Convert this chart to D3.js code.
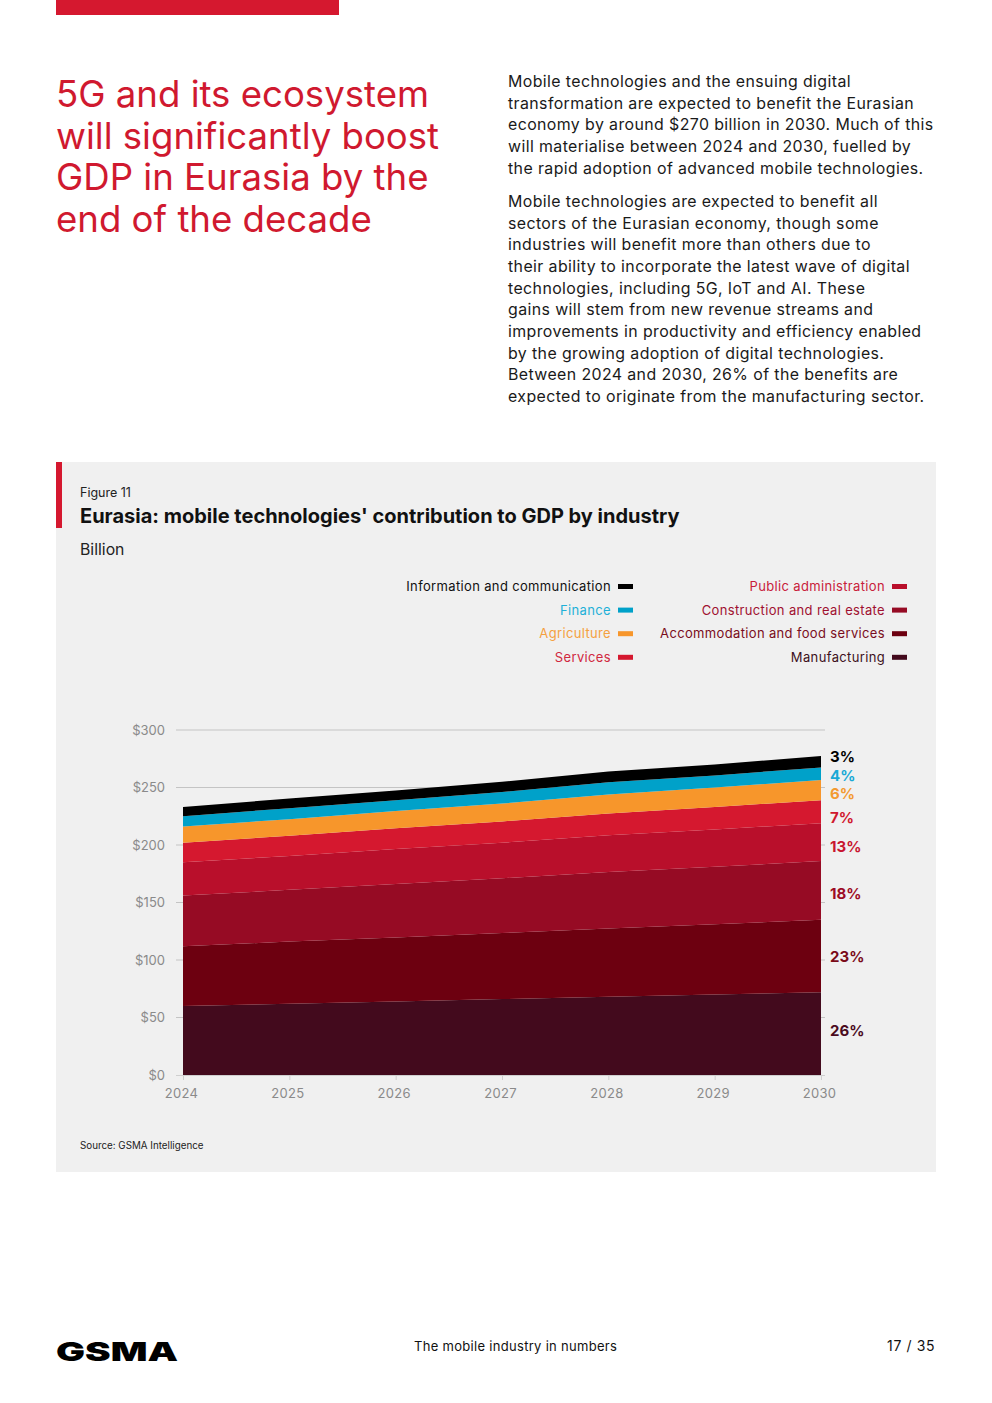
<!DOCTYPE html>
<html>
<head>
<meta charset="utf-8">
<script src="https://cdn.jsdelivr.net/npm/d3@7"></script>
<style>
  body { margin: 0; background: #fff; }
  svg { display: block; }
</style>
</head>
<body>
<div id="page"></div>
<script>
// Data (billion USD)
const years = [2024, 2025, 2026, 2027, 2028, 2029, 2030];
const manufacturing = [60, 62, 64, 66, 68, 70, 72];
const accommodation = [52, 54, 55.5, 57.5, 59.5, 61, 63];
const construction = [44, 45, 46.5, 47.5, 49, 50, 51];
const publicAdmin = [29, 29.5, 30.5, 31, 32, 32.5, 33];
const services = [17, 17.5, 18, 18.5, 19, 19.5, 20];
const agriculture = [14, 14.5, 15, 15.5, 16.5, 17, 17.5];
const finance = [9, 9.5, 9.5, 10, 10.5, 10.5, 11];
const ict = [8, 8.5, 8.5, 9, 9.5, 9.5, 10];

const shares = ["26%", "23%", "18%", "13%", "7%", "6%", "4%", "3%"];
const yTicks = [0, 50, 100, 150, 200, 250, 300];

// Series, bottom to top
const series = [
    { key: "Manufacturing", values: manufacturing, fill: "#430a1d", text: "#3d1020", label: "#4a0b1e" },
    { key: "Accommodation and food services", values: accommodation, fill: "#6d0010", text: "#7a0d20", label: "#7a0a18" },
    { key: "Construction and real estate", values: construction, fill: "#960b24", text: "#a01030", label: "#9c0b25" },
    { key: "Public administration", values: publicAdmin, fill: "#b90f2b", text: "#c8203a", label: "#c8152f" },
    { key: "Services", values: services, fill: "#d5182f", text: "#d0283f", label: "#d0182e" },
    { key: "Agriculture", values: agriculture, fill: "#f7962b", text: "#f5a040", label: "#f39a30" },
    { key: "Finance", values: finance, fill: "#00a1c9", text: "#1fb0d8", label: "#19a9d6" },
    { key: "Information and communication", values: ict, fill: "#000000", text: "#111111", label: "#000000" }
];

const table = years.map((y, i) => {
    const row = { year: y };
    series.forEach(s => { row[s.key] = s.values[i]; });
    return row;
});

const W = 992, H = 1403;
const red = "#d5182f";

const svg = d3.select("#page")
    .append("svg")
    .attr("width", W)
    .attr("height", H);

// Top red bar
svg.append("rect").attr("x", 56).attr("y", 0).attr("width", 283).attr("height", 15).attr("fill", red);

// Heading
const heading = ["5G and its ecosystem", "will significantly boost", "GDP in Eurasia by the", "end of the decade"];
svg.append("g")
    .selectAll("text")
    .data(heading)
    .enter()
    .append("text")
    .attr("x", 56)
    .attr("y", (d, i) => 107 + i * 41.6)
    .attr("fill", "#d0192f")
    .style("font-family", "Inter")
    .style("font-size", "36.6px")
    .style("font-weight", 400)
    .text(d => d);

// Body copy
const para1 = [
    "Mobile technologies and the ensuing digital",
    "transformation are expected to benefit the Eurasian",
    "economy by around $270 billion in 2030. Much of this",
    "will materialise between 2024 and 2030, fuelled by",
    "the rapid adoption of advanced mobile technologies."
];
const para2 = [
    "Mobile technologies are expected to benefit all",
    "sectors of the Eurasian economy, though some",
    "industries will benefit more than others due to",
    "their ability to incorporate the latest wave of digital",
    "technologies, including 5G, IoT and AI. These",
    "gains will stem from new revenue streams and",
    "improvements in productivity and efficiency enabled",
    "by the growing adoption of digital technologies.",
    "Between 2024 and 2030, 26% of the benefits are",
    "expected to originate from the manufacturing sector."
];
function bodyLines(lines, y0) {
    svg.append("g")
        .selectAll("text")
        .data(lines)
        .enter()
        .append("text")
        .attr("x", 508)
        .attr("y", (d, i) => y0 + i * 21.65)
        .attr("fill", "#1a1a1a")
        .style("font-family", "Inter")
        .style("font-size", "15.9px")
        .style("letter-spacing", "0.4px")
        .text(d => d);
}
bodyLines(para1, 87);
bodyLines(para2, 207);

// Figure panel
svg.append("rect").attr("x", 56).attr("y", 462).attr("width", 880).attr("height", 710).attr("fill", "#f0f0f0");
svg.append("rect").attr("x", 56).attr("y", 462).attr("width", 6).attr("height", 66).attr("fill", red);

svg.append("text").attr("x", 80).attr("y", 497)
    .style("font-family", "Inter").style("font-size", "12.5px").attr("fill", "#222")
    .text("Figure 11");
svg.append("text").attr("x", 80).attr("y", 523)
    .style("font-family", "Inter").style("font-size", "20px").style("font-weight", 700).attr("fill", "#111")
    .text("Eurasia: mobile technologies' contribution to GDP by industry");
svg.append("text").attr("x", 80).attr("y", 555)
    .style("font-family", "Inter").style("font-size", "15.8px").attr("fill", "#222")
    .text("Billion");

// Legend: two columns, right aligned text with swatch
const legendCols = [
    { right: 611, items: [series[7], series[6], series[5], series[4]] },
    { right: 885, items: [series[3], series[2], series[1], series[0]] }
];
legendCols.forEach(col => {
    const g = svg.append("g");
    col.items.forEach((s, i) => {
        const cy = 586.5 + i * 23.6;
        g.append("text")
            .attr("x", col.right)
            .attr("y", cy)
            .attr("dy", "0.35em")
            .attr("text-anchor", "end")
            .attr("fill", s.text)
            .style("font-family", "Inter")
            .style("font-size", "13px")
            .style("letter-spacing", "0.35px")
            .text(s.key);
        g.append("rect")
            .attr("x", col.right + 7)
            .attr("y", cy - 2.5)
            .attr("width", 15)
            .attr("height", 5)
            .attr("fill", s.fill);
    });
});

// Chart
const x = d3.scaleLinear().domain([2024, 2030]).range([183, 821]);
const y = d3.scaleLinear().domain([0, 300]).range([1075, 730]);

// Gridlines
svg.append("g")
    .selectAll("line")
    .data(yTicks.filter(d => d > 0))
    .enter()
    .append("line")
    .attr("x1", 176).attr("x2", 825)
    .attr("y1", d => y(d)).attr("y2", d => y(d))
    .attr("stroke", "#c4c4c4")
    .attr("stroke-width", 1);

const stack = d3.stack().keys(series.map(s => s.key));
const stacked = stack(table);

const area = d3.area()
    .x(d => x(d.data.year))
    .y0(d => y(d[0]))
    .y1(d => y(d[1]));

svg.append("g")
    .selectAll("path")
    .data(stacked)
    .enter()
    .append("path")
    .attr("d", area)
    .attr("fill", (d, i) => series[i].fill);

// Y axis labels
const yAxis = svg.append("g")
    .attr("transform", "translate(176,0)")
    .call(d3.axisLeft(y).tickValues(yTicks).tickSize(0).tickPadding(11).tickFormat(d => "$" + d));
yAxis.select(".domain").remove();
yAxis.selectAll("text")
    .attr("fill", "#8a8a8a")
    .style("font-family", "Inter")
    .style("font-size", "13px");

// X axis
const xAxis = svg.append("g")
    .attr("transform", "translate(0,1075)")
    .call(d3.axisBottom(x).tickValues(years).tickSize(5).tickPadding(9).tickFormat(d3.format("d")));
xAxis.select(".domain").attr("stroke", "#cfcfcf").attr("d", "M176,0.5H825");
xAxis.selectAll(".tick line").attr("stroke", "#cfcfcf");
xAxis.selectAll(".tick text").attr("dx", -2);
xAxis.selectAll("text")
    .attr("fill", "#8a8a8a")
    .style("font-family", "Inter")
    .style("font-size", "13px")
    .style("letter-spacing", "0.3px");

// Share labels at the right of the 2030 column, nudged apart
const last = stacked.map(l => l[l.length - 1]);
const pos = last.map(d => y((d[0] + d[1]) / 2));
for (let k = 0; k < 20; k++) {
    for (let i = 0; i < pos.length - 1; i++) {
        const gap = pos[i] - pos[i + 1];
        if (gap < 18) {
            const push = (18 - gap) / 2;
            pos[i] += push;
            pos[i + 1] -= push;
        }
    }
}
const nudge = [-3, 1, 3, 5, 6, 1, 1, 0];
svg.append("g")
    .selectAll("text")
    .data(shares)
    .enter()
    .append("text")
    .attr("x", 830)
    .attr("y", (d, i) => pos[i] + nudge[i])
    .attr("dy", "0.35em")
    .attr("fill", (d, i) => series[i].label)
    .style("font-family", "Inter")
    .style("font-size", "15px")
    .style("font-weight", 700)
    .text(d => d);

svg.append("text").attr("x", 80).attr("y", 1149)
    .style("font-family", "Inter").style("font-size", "9.8px").attr("fill", "#222")
    .text("Source: GSMA Intelligence");

// Footer
svg.append("text").attr("x", 56).attr("y", 1361)
    .attr("textLength", 122).attr("lengthAdjust", "spacingAndGlyphs")
    .style("font-family", "Inter").style("font-size", "26px").style("font-weight", 900)
    .attr("fill", "#000")
    .text("GSMA");
svg.append("text").attr("x", 414).attr("y", 1351)
    .style("font-family", "Inter").style("font-size", "13px").style("letter-spacing", "0.3px").attr("fill", "#111")
    .text("The mobile industry in numbers");
svg.append("text").attr("x", 935).attr("y", 1351).attr("text-anchor", "end")
    .style("font-family", "Inter").style("font-size", "14px").style("letter-spacing", "0.6px").attr("fill", "#111")
    .text("17 / 35");
</script>
</body>
</html>
